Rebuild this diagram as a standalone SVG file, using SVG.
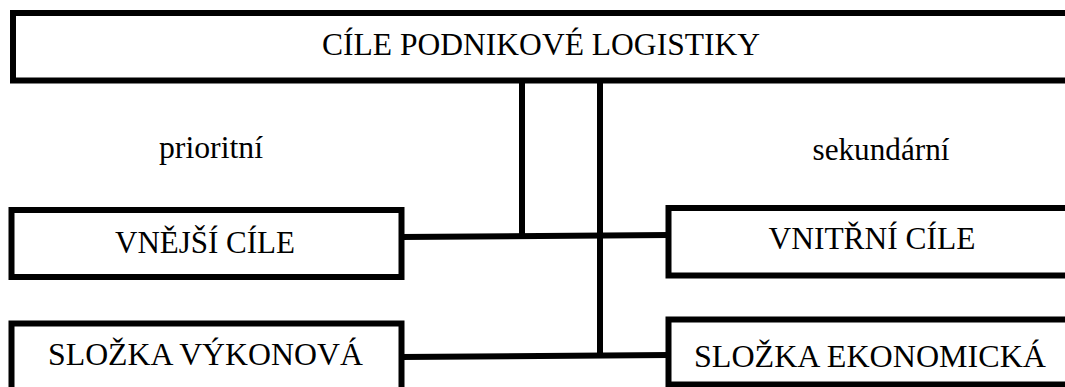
<svg xmlns="http://www.w3.org/2000/svg" width="1065" height="387" viewBox="0 0 1065 387">
<style>
.box{fill:#fff;stroke:#000;stroke-width:6}
.t{font-family:'Liberation Serif',serif;font-size:31.5px;fill:#000;text-anchor:middle}
.c{stroke:#000;stroke-width:6;fill:none}
</style>
<rect width="1065" height="387" fill="#fff"/>
<g id="connectors">
<line class="c" x1="522" y1="80" x2="522" y2="236"/>
<line class="c" x1="600" y1="80" x2="600" y2="356"/>
<line class="c" x1="401" y1="237" x2="669" y2="235"/>
<line class="c" x1="401" y1="357" x2="669" y2="355"/>
</g>
<g id="node-top">
<rect class="box" x="13" y="13" width="1070" height="67.5"/>
<text class="t" x="541" y="55" textLength="438" lengthAdjust="spacingAndGlyphs">CÍLE PODNIKOVÉ LOGISTIKY</text>
</g>
<g id="label-prioritni">
<text class="t" x="211" y="158" textLength="104" lengthAdjust="spacingAndGlyphs">prioritní</text>
</g>
<g id="label-sekundarni">
<text class="t" x="881" y="160" textLength="137" lengthAdjust="spacingAndGlyphs">sekundární</text>
</g>
<g id="node-vnejsi">
<rect class="box" x="11.5" y="210" width="390" height="67"/>
<text class="t" x="205" y="253" textLength="180" lengthAdjust="spacingAndGlyphs">VNĚJŠÍ CÍLE</text>
</g>
<g id="node-vnitrni">
<rect class="box" x="668.5" y="208" width="420" height="67.5"/>
<text class="t" x="872" y="249" textLength="207" lengthAdjust="spacingAndGlyphs">VNITŘNÍ CÍLE</text>
</g>
<g id="node-vykonova">
<rect class="box" x="11.5" y="323.5" width="390" height="80"/>
<text class="t" x="205.5" y="365" textLength="315" lengthAdjust="spacingAndGlyphs">SLOŽKA VÝKONOVÁ</text>
</g>
<g id="node-ekonomicka">
<rect class="box" x="668.5" y="319.5" width="420" height="65"/>
<text class="t" x="870" y="367" textLength="352" lengthAdjust="spacingAndGlyphs">SLOŽKA EKONOMICKÁ</text>
</g>
</svg>
